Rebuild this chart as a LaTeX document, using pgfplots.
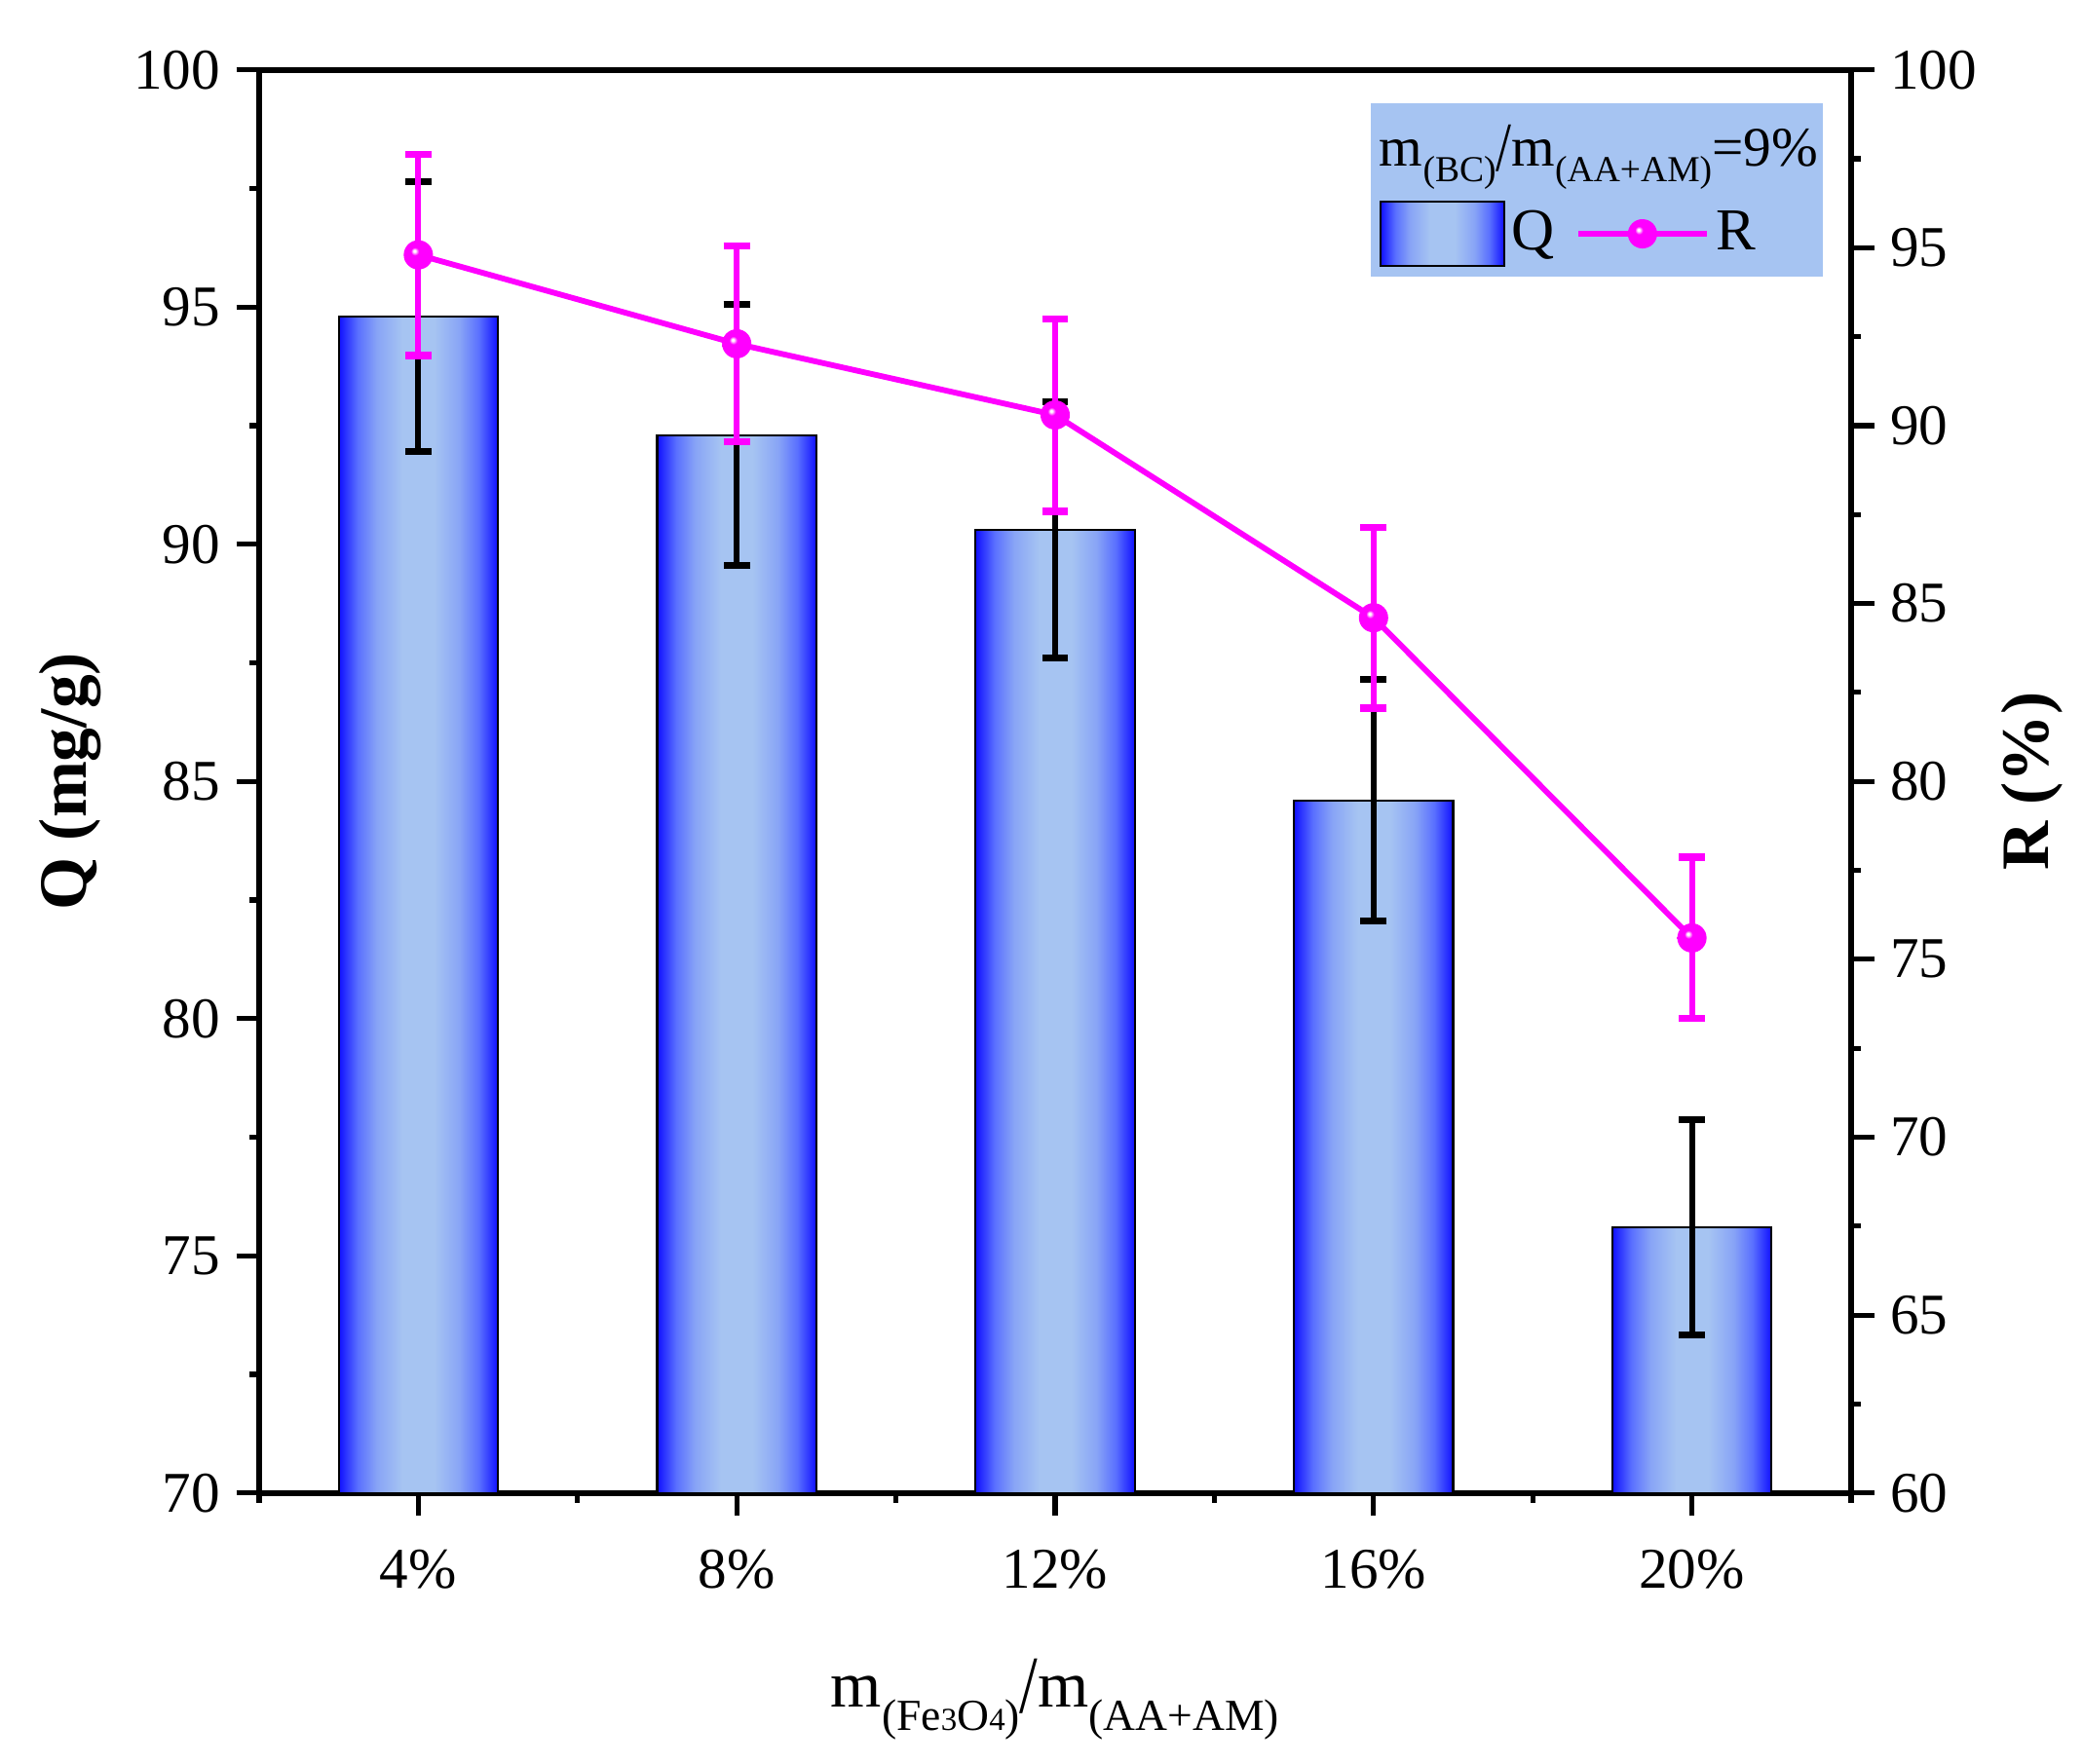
\documentclass[border=0pt]{standalone}
\usepackage{pgfplots}
\usepackage{pgfplotstable}
\usepackage{graphicx}
\pgfplotsset{compat=1.18}
\usepackage{fontspec}
\setmainfont{Liberation Serif}
\definecolor{bEdge}{HTML}{1010FF}
\definecolor{bMidA}{HTML}{5A70FF}
\definecolor{bMidB}{HTML}{88A4F6}
\definecolor{bMid}{HTML}{A6C4F2}
\definecolor{legblue}{HTML}{A6C4F2}
\definecolor{mag}{HTML}{FF00FF}
\pgfdeclarehorizontalshading{barshade}{100bp}{color(0bp)=(bEdge); color(25bp)=(bEdge); color(31bp)=(bMidA); color(37bp)=(bMidB); color(45bp)=(bMid); color(55bp)=(bMid); color(63bp)=(bMidB); color(69bp)=(bMidA); color(75bp)=(bEdge); color(100bp)=(bEdge)}
\pgfdeclareradialshading{mballshade}{\pgfpoint{-7bp}{7bp}}{color(0bp)=(white); color(2bp)=(white); color(4bp)=(mag!45!white); color(7bp)=(mag); color(50bp)=(mag)}
\pgfdeclareplotmark{mball}{%
  \pgfpathcircle{\pgfpointorigin}{\pgfplotmarksize}%
  \pgfshadepath{mballshade}{0}%
  \pgfusepath{discard}%
}
\pgfplotstableread{
x y e
0 94.8 2.83
1 92.3 2.76
2 90.3 2.71
3 84.6 2.54
4 75.6 2.27
}\Rdata
\pgfplotsset{
  Rleg/.style={legend image code/.code={\draw[mark repeat=2, mark phase=2, ##1] plot coordinates {(0pt,0pt) (14pt,0pt) (28pt,0pt)};}},
  Qleg/.style={legend image code/.code={\path[shade, shading=barshade, draw=black, line width=0.45pt] (0pt,-7pt) rectangle (27pt,7pt);}},
  Qbar/.style={ybar, bar shift=0pt, bar width=0.5, draw=black, line width=0.45pt, shading=barshade,
    error bars/.cd, y dir=both, y explicit,
    error bar style={line width=1.25pt, black},
    error mark=|,
    error mark options={line width=1.5pt, mark size=2.87pt, black}},
}
\newcommand{\slashbig}{\raisebox{-1.2pt}{\scalebox{1}[1.25]{/}}}
\begin{document}
\begin{tikzpicture}
\pgfplotsset{
  common/.style={
    scale only axis,
    width=347.93pt, height=311.09pt,
    xmin=-0.5, xmax=4.5,
    tick align=outside,
    major tick length=5pt,
    minor tick length=2.2pt,
    every tick/.style={black, line width=1.1pt},
    axis line style={line width=1.25pt, black},
    tick label style={font=\fontsize{12.6}{13}\selectfont},
    /pgf/number format/assume math mode=true,
  }
}
\begin{axis}[
  common,
  ymin=70, ymax=100,
  ytick={70,75,...,100},
  minor ytick={72.5,77.5,...,97.5},
  xtick={0,1,2,3,4},
  xticklabels={4\%,8\%,12\%,16\%,20\%},
  xticklabel style={yshift=-3.8pt},
  minor xtick={-0.5,0.5,1.5,2.5,3.5,4.5},
  xtick pos=left, ytick pos=left,
  ylabel={Q (mg/g)},
  ylabel style={at={([xshift=-37.7pt]axis description cs:0,0.5)}, anchor=base, font=\bfseries\fontsize{14.8}{15}\selectfont},
  xlabel={m\raisebox{-5.1pt}{\fontsize{9.7}{10}\selectfont (Fe\fontsize{7}{7}\selectfont 3\fontsize{9.7}{10}\selectfont O\fontsize{7}{7}\selectfont 4\fontsize{9.7}{10}\selectfont )}\slashbig m\raisebox{-5.1pt}{\fontsize{9.7}{10}\selectfont (AA+AM)}},
  xlabel style={at={([yshift=-46.8pt]axis description cs:0.5,0)}, anchor=base, font=\fontsize{14.3}{15}\selectfont},
]
\coordinate (SW) at (rel axis cs:0,0);
\coordinate (NE) at (rel axis cs:1,1);
\addplot[Qbar] coordinates {(0,94.8) +- (0,2.85)};
\addplot[Qbar] coordinates {(1,92.3) +- (0,2.75)};
\addplot[Qbar] coordinates {(2,90.3) +- (0,2.70)};
\addplot[Qbar] coordinates {(3,84.6) +- (0,2.55)};
\addplot[Qbar] coordinates {(4,75.6) +- (0,2.27)};
\end{axis}
\begin{axis}[
  common,
  ymin=60, ymax=100,
  ytick={60,65,...,100},
  minor ytick={62.5,67.5,...,97.5},
  axis y line*=right, axis x line=none,
  ylabel={R (\%)},
  ylabel style={at={([xshift=43.2pt]axis description cs:1,0.5)}, anchor=base, font=\bfseries\fontsize{14.8}{15}\selectfont},
  legend columns=2,
  legend style={at={(axis description cs:0.7032,0.8848)}, anchor=west, fill=none, draw=none, inner sep=0pt,
    font=\fontsize{13}{13}\selectfont, nodes={inner sep=1.5pt},
    /tikz/every even column/.append style={column sep=3pt}},
]
\addlegendimage{Qleg}
\addlegendentry{Q}
\addplot[mag, line width=1.25pt, mark=mball, mark size=3.2pt, Rleg,
  error bars/.cd, y dir=both, y explicit,
  error bar style={line width=1.25pt, mag},
  error mark=|,
  error mark options={line width=1.5pt, mark size=2.87pt, mag}]
  table[x=x, y=y, y error=e] {\Rdata};
\addlegendentry{R}
\fill[legblue] (axis description cs:0.6983,0.8547) rectangle (axis description cs:0.9823,0.9765);
\node[anchor=base west, inner sep=0pt, font=\fontsize{12.2}{13}\selectfont] at (axis description cs:0.7032,0.9327)
  {m\raisebox{-3.6pt}{\fontsize{8}{9}\selectfont (BC)}\slashbig m\raisebox{-3.6pt}{\fontsize{8}{9}\selectfont (AA+AM)}=9\%};
\end{axis}
\pgfresetboundingbox
\path[use as bounding box] ([shift={(-56.64pt,-59.19pt)}]SW) rectangle ([shift={(50.68pt,15.27pt)}]NE);
\end{tikzpicture}
\end{document}
